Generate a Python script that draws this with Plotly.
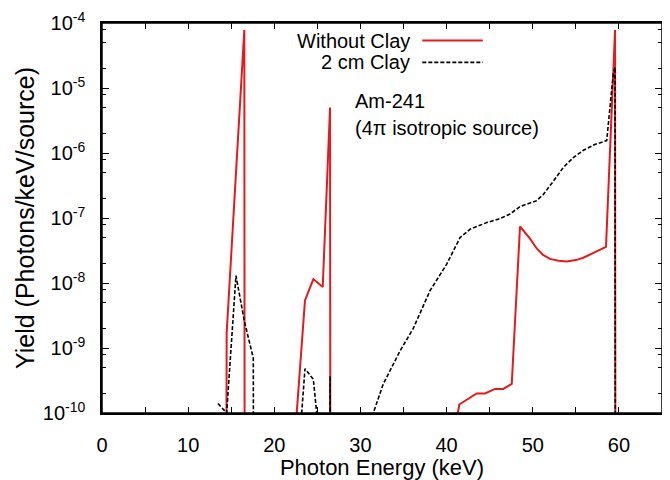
import plotly.graph_objects as go

# ---- data ----
# Without Clay (red solid); 1e-12 marks values below the plotted range
energy_noclay = [14.42, 14.47, 16.52, 16.56, 22.45, 22.60, 23.56, 24.53, 25.62, 26.47, 26.51,
                 41.30, 41.47, 43.49, 44.46, 45.62, 46.58, 47.56, 48.52, 49.68, 50.46,
                 51.20, 52.00, 53.00, 53.94, 55.00, 55.87, 57.10, 58.50, 59.55, 59.59]
yield_noclay = [1e-12, 1.7e-9, 7.8e-5, 1e-12, 1e-12, 1e-10, 5.4e-9, 1.15e-8, 8.7e-9, 5.0e-6, 1e-12,
                1e-10, 1.35e-10, 2.0e-10, 2.0e-10, 2.35e-10, 2.35e-10, 2.8e-10, 7.4e-8, 4.8e-8, 3.4e-8,
                2.7e-8, 2.35e-8, 2.2e-8, 2.15e-8, 2.25e-8, 2.45e-8, 2.9e-8, 3.6e-8, 7.8e-5, 1e-12]

# 2 cm Clay (black dashed)
energy_clay = [13.46, 14.47, 15.55, 16.52, 17.56, 17.60, 23.18, 23.56, 24.53, 24.92, 26.43, 26.47, 26.51,
               31.49, 32.65, 34.59, 36.13, 38.07, 40.01, 41.56, 42.72, 44.65, 46.20, 47.36, 48.52,
               50.46, 51.22, 52.40, 53.55, 54.70, 55.87, 57.20, 58.58, 59.35, 59.55, 59.59]
yield_clay = [1.4e-10, 1e-10, 1.3e-8, 2.6e-9, 7e-10, 1e-12, 1e-10, 4.8e-10, 3.3e-10, 1e-10, 1e-12, 3.7e-10, 1e-12,
              1e-10, 2.8e-10, 9e-10, 2.0e-9, 7.6e-9, 1.95e-8, 5e-8, 6.7e-8, 8.5e-8, 9.8e-8, 1.15e-7, 1.5e-7,
              1.85e-7, 2.3e-7, 3.7e-7, 6e-7, 8.5e-7, 1.1e-6, 1.35e-6, 1.55e-6, 1.67e-5, 2.1e-5, 1e-12]

x_ticks = [0, 5, 10, 15, 20, 25, 30, 35, 40, 45, 50, 55, 60, 65]
x_ticklabels = ["0", "", "10", "", "20", "", "30", "", "40", "", "50", "", "60", ""]
y_exponents = [-10, -9, -8, -7, -6, -5, -4]
y_minor_factors = [2, 5, 8]

series_names = ["Without Clay", "2 cm Clay"]
annot_lines = ["Am-241", "(4\u03c0 isotropic source)"]

FONT = "Liberation Sans, Arial, Helvetica, sans-serif"
DASH = "4px,2px"

fig = go.Figure()
fig.add_trace(go.Scatter(x=energy_noclay, y=yield_noclay, mode="lines", name=series_names[0],
                         line=dict(color="#e41a1c", width=2), showlegend=False))
fig.add_trace(go.Scatter(x=energy_clay, y=yield_clay, mode="lines", name=series_names[1],
                         line=dict(color="black", width=1.6, dash=DASH), showlegend=False))
# invisible trace on the overlay axis that carries the minor y ticks
fig.add_trace(go.Scatter(x=[None], y=[None], yaxis="y2", showlegend=False, hoverinfo="skip"))

y_tickvals = [10.0 ** e for e in y_exponents]
y_ticktext = ["10<sup>%d</sup>" % e for e in y_exponents]
y_minor = [f * 10.0 ** e for e in y_exponents[:-1] for f in y_minor_factors]

# page body has an 8px margin, so the figure is 8px smaller and margins shifted
fig.update_layout(
    width=662, height=472,
    margin=dict(l=94, r=8, t=15, b=67),
    plot_bgcolor="white", paper_bgcolor="white",
    font=dict(family=FONT, size=20, color="black"),
    xaxis=dict(range=[0, 65], tickvals=x_ticks, ticktext=x_ticklabels, ticks="inside", ticklen=6,
               tickwidth=1, tickcolor="black", showline=True, linecolor="black", linewidth=1.5,
               mirror="ticks", showgrid=False, zeroline=False, automargin=False,
               title=dict(text="Photon Energy (keV)", font=dict(size=22), standoff=3),
               tickfont=dict(size=20), ticklabelstandoff=13, ticklabeloverflow="allow"),
    yaxis=dict(type="log", range=[-10, -4], tickvals=y_tickvals, ticktext=y_ticktext,
               ticks="inside", ticklen=7, tickwidth=1, tickcolor="black",
               showline=True, linecolor="black", linewidth=1.5, mirror="ticks",
               showgrid=False, zeroline=False, automargin=False,
               title=dict(text="Yield (Photons/keV/source)", font=dict(size=25), standoff=1),
               tickfont=dict(size=20), ticklabelstandoff=11, ticklabeloverflow="allow"),
    yaxis2=dict(type="log", range=[-10, -4], overlaying="y", side="left", tickvals=y_minor,
                ticktext=[""] * len(y_minor), ticks="inside", ticklen=4, tickwidth=1,
                tickcolor="black", mirror="ticks", showline=False, showgrid=False,
                zeroline=False, automargin=False),
)

# plot frame
fig.add_shape(type="rect", xref="paper", yref="paper", x0=0, x1=1, y0=0, y1=1,
              line=dict(color="black", width=1.5), layer="above")

# legend drawn as text + sample lines (text left of sample, as in the reference)
leg_y = [0.955, 0.899]
leg_styles = [dict(color="#e41a1c", width=2), dict(color="black", width=1.6, dash=DASH)]
for name, yy, st in zip(series_names, leg_y, leg_styles):
    fig.add_annotation(x=0.553, y=yy, xref="paper", yref="paper", text=name, showarrow=False,
                       xanchor="right", yanchor="middle", font=dict(size=20))
    fig.add_shape(type="line", xref="paper", yref="paper", x0=0.572, x1=0.680, y0=yy, y1=yy, line=st)

for txt, yy in zip(annot_lines, [0.80, 0.731]):
    fig.add_annotation(x=0.448, y=yy, xref="paper", yref="paper", text=txt, showarrow=False,
                       xanchor="left", yanchor="middle", font=dict(size=20))

fig.write_html("out.html")
